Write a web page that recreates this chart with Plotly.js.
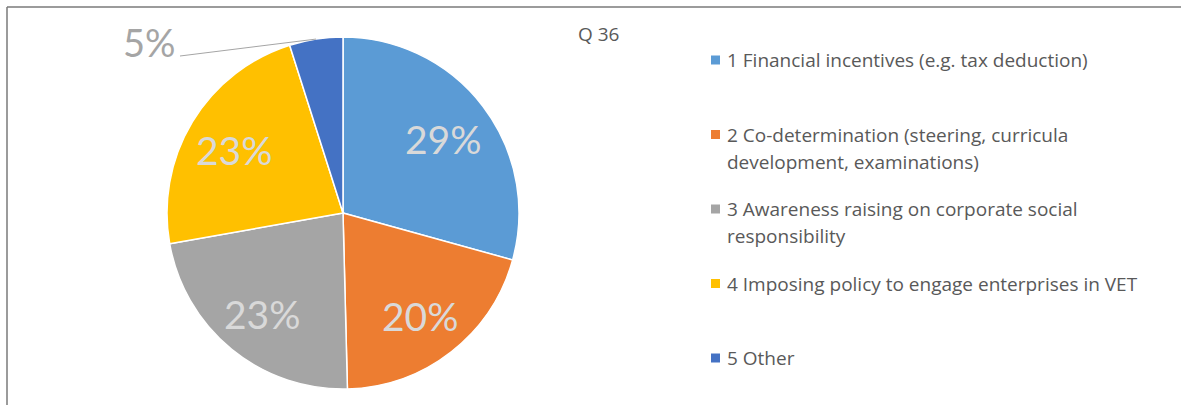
<!DOCTYPE html>
<html>
<head>
<meta charset="utf-8">
<script src="https://cdn.plot.ly/plotly-3.0.1.min.js"></script>
<style>
  html, body { margin: 0; padding: 0; background: #fff; }
  #chart { width: 1181px; height: 405px; }
</style>
</head>
<body>
<div id="chart"></div>
<script>
const categories = [
  '1 Financial incentives (e.g. tax deduction)',
  '2 Co-determination (steering, curricula<br>development, examinations)',
  '3 Awareness raising on corporate social<br>responsibility',
  '4 Imposing policy to engage enterprises in VET',
  '5 Other',
];
const shares = [29.3, 20.3, 22.6, 22.9, 4.9];
const colors = ['#5B9BD5', '#ED7D31', '#A5A5A5', '#FFC000', '#4472C4'];
const chartTitle = 'Q 36';

const W = 1181;
const H = 405;
const px = (x) => x / W;
const py = (y) => 1 - y / H;

// pie geometry in pixels
const cx = 343, cy = 213, r = 176;
const total = shares.reduce((a, b) => a + b, 0);
const pct = shares.map((v) => `${Math.round((v / total) * 100)}%`);

const labelFont = 'Lato, "Open Sans", sans-serif';
const textFont = '"Open Sans", Lato, sans-serif';

const annotations = [
  {
    text: chartTitle, x: px(598), y: py(34), xref: 'paper', yref: 'paper',
    xanchor: 'center', yanchor: 'middle',
    showarrow: false, font: { family: textFont, size: 19, color: '#595959' },
  },
  {
    text: pct[4], x: px(149), y: py(42), xref: 'paper', yref: 'paper',
    xanchor: 'center', yanchor: 'middle',
    showarrow: false, font: { family: labelFont, size: 38, color: '#A5A5A5' },
  },
];

// data labels placed along each slice's mid angle
let acc = 0;
const mids = shares.map((v) => {
  const m = ((acc + v / 2) / total) * 2 * Math.PI;
  acc += v;
  return m;
});
mids.slice(0, 4).forEach((m, i) => {
  annotations.push({
    text: pct[i], x: px(cx + 0.72 * r * Math.sin(m)), y: py(cy - 0.72 * r * Math.cos(m) + 3),
    xref: 'paper', yref: 'paper', xanchor: 'center', yanchor: 'middle', showarrow: false,
    font: { family: labelFont, size: 39, color: '#D9D9D9' },
  });
});

const edgeX = cx + r * Math.sin(mids[4]);
const edgeY = cy - r * Math.cos(mids[4]);

const shapes = [
  { type: 'line', xref: 'paper', yref: 'paper', x0: px(7), y0: py(7), x1: 1, y1: py(7), line: { color: '#7a7a7a', width: 1.5 } },
  { type: 'line', xref: 'paper', yref: 'paper', x0: px(7), y0: py(7), x1: px(7), y1: 0, line: { color: '#7a7a7a', width: 1.5 } },
  { type: 'line', xref: 'paper', yref: 'paper', x0: px(180), y0: py(56), x1: px(edgeX), y1: py(edgeY), line: { color: '#A5A5A5', width: 1 } },
];

categories.forEach((label, i) => {
  const top = 60 + 74.5 * i;
  shapes.push({
    type: 'rect', xref: 'paper', yref: 'paper',
    x0: px(711), x1: px(720), y0: py(top - 4.5), y1: py(top + 4.5),
    fillcolor: colors[i], line: { width: 0 },
  });
  label.split('<br>').forEach((line, j) => {
    annotations.push({
      text: line, x: px(725), y: py(top + 27 * j), xref: 'paper', yref: 'paper',
      xanchor: 'left', yanchor: 'middle', showarrow: false,
      font: { family: textFont, size: 19, color: '#595959' },
    });
  });
});

Plotly.newPlot('chart', [
  {
    type: 'pie',
    labels: categories.map((c) => c.replace('<br>', ' ')),
    values: shares,
    sort: false,
    direction: 'clockwise',
    rotation: 0,
    marker: { colors: colors, line: { color: '#ffffff', width: 1.5 } },
    textinfo: 'none',
    hoverinfo: 'skip',
    domain: { x: [px(cx - r), px(cx + r)], y: [py(cy + r), py(cy - r)] },
    showlegend: false,
  },
], {
  width: W,
  height: H,
  margin: { l: 0, r: 0, t: 0, b: 0 },
  paper_bgcolor: '#ffffff',
  showlegend: false,
  annotations: annotations,
  shapes: shapes,
}, { displayModeBar: false, staticPlot: true });
</script>
</body>
</html>
